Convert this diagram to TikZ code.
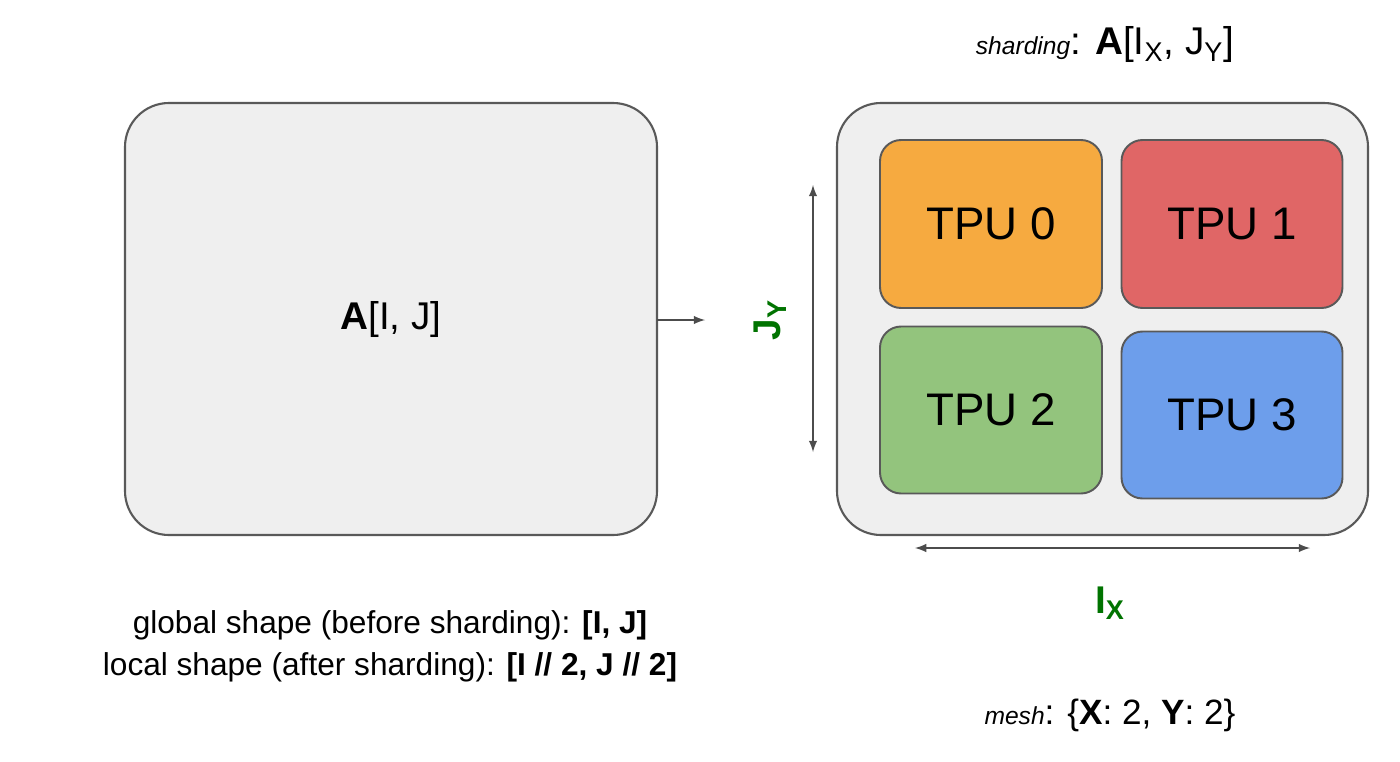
\documentclass[tikz,border=0pt]{standalone}
\usepackage{fontspec}
\setmainfont{Liberation Sans}
\begin{document}
\begin{tikzpicture}[x=0.02cm,y=-0.02cm,
 box/.style={draw=black!65,line width=1.2pt,rounded corners=25pt},
 tpu/.style={draw=black!65,line width=1.1pt,rounded corners=12pt,font=\fontsize{26}{30}\selectfont},
 arr/.style={draw=black!70,line width=1.2pt,-latex},
 darr/.style={draw=black!70,line width=1.2pt,latex-latex},
 lab/.style={text=green!45!black,font=\bfseries\fontsize{22}{26}\selectfont}]
\useasboundingbox (0,0) rectangle (1400,761);
\definecolor{bg}{HTML}{EFEFEF}
\path[box,fill=bg] (125,103) rectangle (657,535);
\node (A) at (391,320) {\fontsize{22}{26}\selectfont\textbf{A}[I, J]};
\coordinate (as) at (657,320);
\coordinate (ae) at (705,320);
\draw[arr] (as) -- (ae);
\path[box,fill=bg] (837,103) rectangle (1368,535);
\node[tpu,fill={rgb,255:red,246;green,170;blue,64},minimum width=222*0.02cm,minimum height=168*0.02cm] (t0) at (991,224) {TPU 0};
\node[tpu,fill={rgb,255:red,224;green,102;blue,102},minimum width=221*0.02cm,minimum height=168*0.02cm] (t1) at (1232,224) {TPU 1};
\node[tpu,fill={rgb,255:red,147;green,196;blue,125},minimum width=222*0.02cm,minimum height=167*0.02cm] (t2) at (991,410) {TPU 2};
\node[tpu,fill={rgb,255:red,109;green,158;blue,235},minimum width=221*0.02cm,minimum height=167*0.02cm] (t3) at (1232,415) {TPU 3};
\coordinate (v1) at (813,185); \coordinate (v2) at (813,452);
\draw[darr] (v1) -- (v2);
\coordinate (h1) at (915,548); \coordinate (h2) at (1310,548);
\draw[darr] (h1) -- (h2);
\node[lab,rotate=90] (jy) at (770,320) {J\textsubscript{Y}};
\node[lab] (ix) at (1110,603) {I\textsubscript{X}};
\node (sh) at (1105,45) {\fontsize{14}{16}\selectfont\itshape sharding\upshape\fontsize{22}{26}\selectfont: \textbf{A}[I\textsubscript{X}, J\textsubscript{Y}]};
\node[align=center,font=\fontsize{18}{24}\selectfont] (gs) at (390,646) {global shape (before sharding): \textbf{[I, J]}\\local shape (after sharding): \textbf{[I // 2, J // 2]}};
\node (me) at (1110,715) {\fontsize{14}{16}\selectfont\itshape mesh\upshape\fontsize{20}{24}\selectfont: \{\textbf{X}: 2, \textbf{Y}: 2\}};
\end{tikzpicture}
\end{document}
